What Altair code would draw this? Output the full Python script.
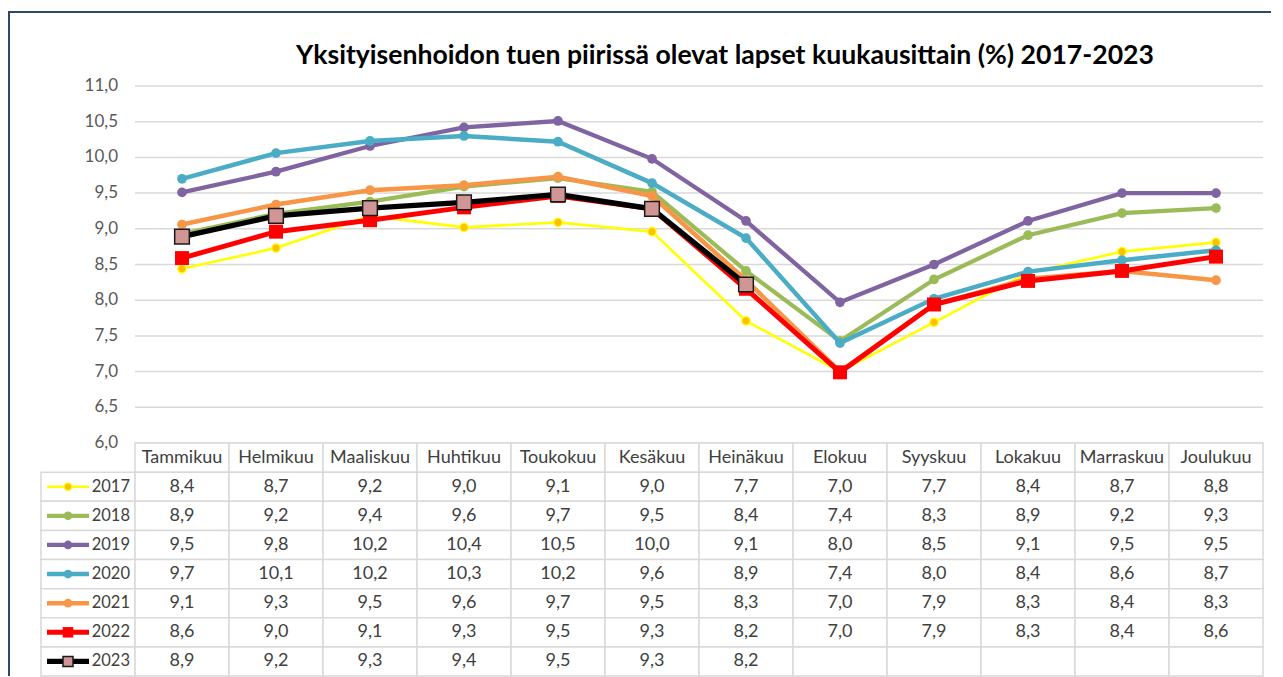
import altair as alt
import pandas as pd

# ---------------- data ----------------
months = ["Tammikuu", "Helmikuu", "Maaliskuu", "Huhtikuu", "Toukokuu", "Kesäkuu",
          "Heinäkuu", "Elokuu", "Syyskuu", "Lokakuu", "Marraskuu", "Joulukuu"]
years = ["2017", "2018", "2019", "2020", "2021", "2022", "2023"]

v2017 = [8.44, 8.73, 9.18, 9.02, 9.09, 8.96, 7.71, 7.00, 7.69, 8.38, 8.68, 8.81]
v2018 = [8.93, 9.21, 9.38, 9.59, 9.71, 9.52, 8.41, 7.43, 8.29, 8.91, 9.22, 9.29]
v2019 = [9.51, 9.80, 10.16, 10.42, 10.51, 9.98, 9.11, 7.97, 8.50, 9.11, 9.50, 9.50]
v2020 = [9.70, 10.06, 10.23, 10.30, 10.22, 9.64, 8.87, 7.40, 8.02, 8.40, 8.56, 8.70]
v2021 = [9.06, 9.34, 9.54, 9.61, 9.73, 9.46, 8.28, 7.00, 7.94, 8.30, 8.41, 8.28]
v2022 = [8.59, 8.96, 9.12, 9.30, 9.46, 9.28, 8.16, 6.99, 7.94, 8.27, 8.41, 8.61]
v2023 = [8.89, 9.18, 9.29, 9.37, 9.48, 9.28, 8.22]

y_ticks = [6.0, 6.5, 7.0, 7.5, 8.0, 8.5, 9.0, 9.5, 10.0, 10.5, 11.0]

title_text = "Yksityisenhoidon tuen piirissä olevat lapset kuukausittain (%) 2017-2023"

series = {"2017": v2017, "2018": v2018, "2019": v2019, "2020": v2020,
          "2021": v2021, "2022": v2022, "2023": v2023}

# ---------------- styles ----------------
FONT = "Lato"
style = {
    "2017": dict(line="#ffff00", lw=2.6, shape="circle", fill="#ffc000", stroke="#ffff00", sw=1.2, size=70, lsize=55),
    "2018": dict(line="#9bbb59", lw=4.2, shape="circle", fill="#9bbb59", stroke="#9bbb59", sw=0, size=95, lsize=75),
    "2019": dict(line="#8064a2", lw=4.3, shape="circle", fill="#8064a2", stroke="#8064a2", sw=0, size=95, lsize=75),
    "2020": dict(line="#4bacc6", lw=4.5, shape="circle", fill="#4bacc6", stroke="#4bacc6", sw=0, size=95, lsize=75),
    "2021": dict(line="#f79646", lw=4.5, shape="circle", fill="#f79646", stroke="#f79646", sw=0, size=95, lsize=75),
    "2022": dict(line="#ff0000", lw=5, shape="square", fill="#ff0000", stroke="#ff0000", sw=0, size=195, lsize=110),
    "2023": dict(line="#000000", lw=5.3, shape="square", fill="#d09595", stroke="#1a1a1a", sw=1.5, size=215, lsize=100),
}
GRID = "#d9d9d9"
FRAME = "#2d4766"

def fmt(v):
    return f"{v:.1f}".replace(".", ",")

NB = len(months)
W = (NB + 1) * 94
H_PLOT = 357
H_TABLE = 233

xscale = alt.Scale(domain=[-1, NB], nice=False, zero=False)
yscale = alt.Scale(domain=[y_ticks[0], y_ticks[-1]], nice=False, zero=False)
rowscale = alt.Scale(domain=["h"] + years, paddingInner=0, paddingOuter=0)

one = pd.DataFrame({"k": [0]})

# ---------------- top: line chart ----------------
grid_df = pd.DataFrame({"v": y_ticks, "lab": [fmt(t) for t in y_ticks]})

grid = alt.Chart(grid_df).mark_rule(color=GRID, strokeWidth=1.5).encode(
    y=alt.Y("v:Q", scale=yscale, axis=None),
    x=alt.X(datum=0, type="quantitative", scale=xscale, axis=None),
    x2=alt.X2(datum=NB),
)
ylabels = alt.Chart(grid_df).mark_text(
    align="right", baseline="middle", dx=-17, fontSize=17, font=FONT, color="#595959"
).encode(
    y=alt.Y("v:Q", scale=yscale, axis=None),
    x=alt.X(datum=0, type="quantitative", scale=xscale, axis=None),
    text="lab:N",
)

title = alt.Chart(one).mark_text(
    text=title_text, font=FONT, fontSize=26.6, fontWeight="bold", color="#000000",
    align="center", baseline="alphabetic"
).encode(x=alt.value(684), y=alt.value(-22))

frame_top = alt.Chart(one).mark_rule(color=FRAME, strokeWidth=2).encode(
    x=alt.value(-32), x2=alt.value(1230), y=alt.value(-74)
)
frame_left1 = alt.Chart(one).mark_rule(color=FRAME, strokeWidth=2).encode(
    x=alt.value(-32), y=alt.value(-75), y2=alt.value(H_PLOT)
)

top_layers = [frame_top, frame_left1, title, grid, ylabels]
for yr in years:
    vals = series[yr]
    d = pd.DataFrame({"xc": [i + 0.5 for i in range(len(vals))], "value": vals})
    s = style[yr]
    line = alt.Chart(d).mark_line(color=s["line"], strokeWidth=s["lw"]).encode(
        x=alt.X("xc:Q", scale=xscale, axis=None),
        y=alt.Y("value:Q", scale=yscale, axis=None),
    )
    pts = alt.Chart(d).mark_point(
        shape=s["shape"], filled=True, fill=s["fill"], stroke=s["stroke"],
        strokeWidth=s["sw"], size=s["size"], opacity=1
    ).encode(
        x=alt.X("xc:Q", scale=xscale, axis=None),
        y=alt.Y("value:Q", scale=yscale, axis=None),
    )
    top_layers += [line, pts]

top = alt.layer(*top_layers).properties(width=W, height=H_PLOT)

# ---------------- bottom: data table ----------------
cells = []
for i, m in enumerate(months):
    cells.append({"row": "h", "x0": i, "x1": i + 1, "xc": i + 0.5, "text": m})
for yr in years:
    vals = series[yr]
    cells.append({"row": yr, "x0": -1, "x1": 0, "xc": -0.5, "text": ""})
    for i in range(NB):
        t = fmt(vals[i]) if i < len(vals) else ""
        cells.append({"row": yr, "x0": i, "x1": i + 1, "xc": i + 0.5, "text": t})
cells_df = pd.DataFrame(cells)

rects = alt.Chart(cells_df).mark_rect(fill="white", stroke=GRID, strokeWidth=1.5).encode(
    x=alt.X("x0:Q", scale=xscale, axis=None),
    x2="x1:Q",
    y=alt.Y("row:N", scale=rowscale, axis=None, sort=None),
)
texts = alt.Chart(cells_df).mark_text(fontSize=18, font=FONT, color="#404040").encode(
    x=alt.X("xc:Q", scale=xscale, axis=None),
    y=alt.Y("row:N", scale=rowscale, axis=None, sort=None),
    text="text:N",
)

leg_df = pd.DataFrame({"row": years})
table_layers = [rects, texts]
for yr in years:
    s = style[yr]
    dd = leg_df[leg_df["row"] == yr]
    sw_line = alt.Chart(dd).mark_rule(
        color=s["line"], strokeWidth=s["lw"], xOffset=6, x2Offset=48
    ).encode(
        x=alt.X(datum=-1, type="quantitative", scale=xscale, axis=None),
        x2=alt.X2(datum=-1),
        y=alt.Y("row:N", scale=rowscale, axis=None, sort=None),
    )
    sw_pt = alt.Chart(dd).mark_point(
        shape=s["shape"], filled=True, fill=s["fill"], stroke=s["stroke"],
        strokeWidth=s["sw"], size=s["lsize"], opacity=1, xOffset=27
    ).encode(
        x=alt.X(datum=-1, type="quantitative", scale=xscale, axis=None),
        y=alt.Y("row:N", scale=rowscale, axis=None, sort=None),
    )
    table_layers += [sw_line, sw_pt]

year_txt = alt.Chart(leg_df).mark_text(
    align="right", dx=-5, fontSize=16.5, font=FONT, color="#404040"
).encode(
    x=alt.X(datum=0, type="quantitative", scale=xscale, axis=None),
    y=alt.Y("row:N", scale=rowscale, axis=None, sort=None),
    text="row:N",
)
frame_left2 = alt.Chart(one).mark_rule(color=FRAME, strokeWidth=2).encode(
    x=alt.value(-32), y=alt.value(0), y2=alt.value(H_TABLE)
)
table_layers += [year_txt, frame_left2]

table = alt.layer(*table_layers).properties(width=W, height=H_TABLE)

chart = alt.vconcat(top, table, spacing=0, bounds="flush").properties(
    padding={"left": 0, "top": 2, "right": 0, "bottom": 0},
).configure_view(stroke=None)

chart.save("out.html", embed_options={"renderer": "svg", "actions": False})
